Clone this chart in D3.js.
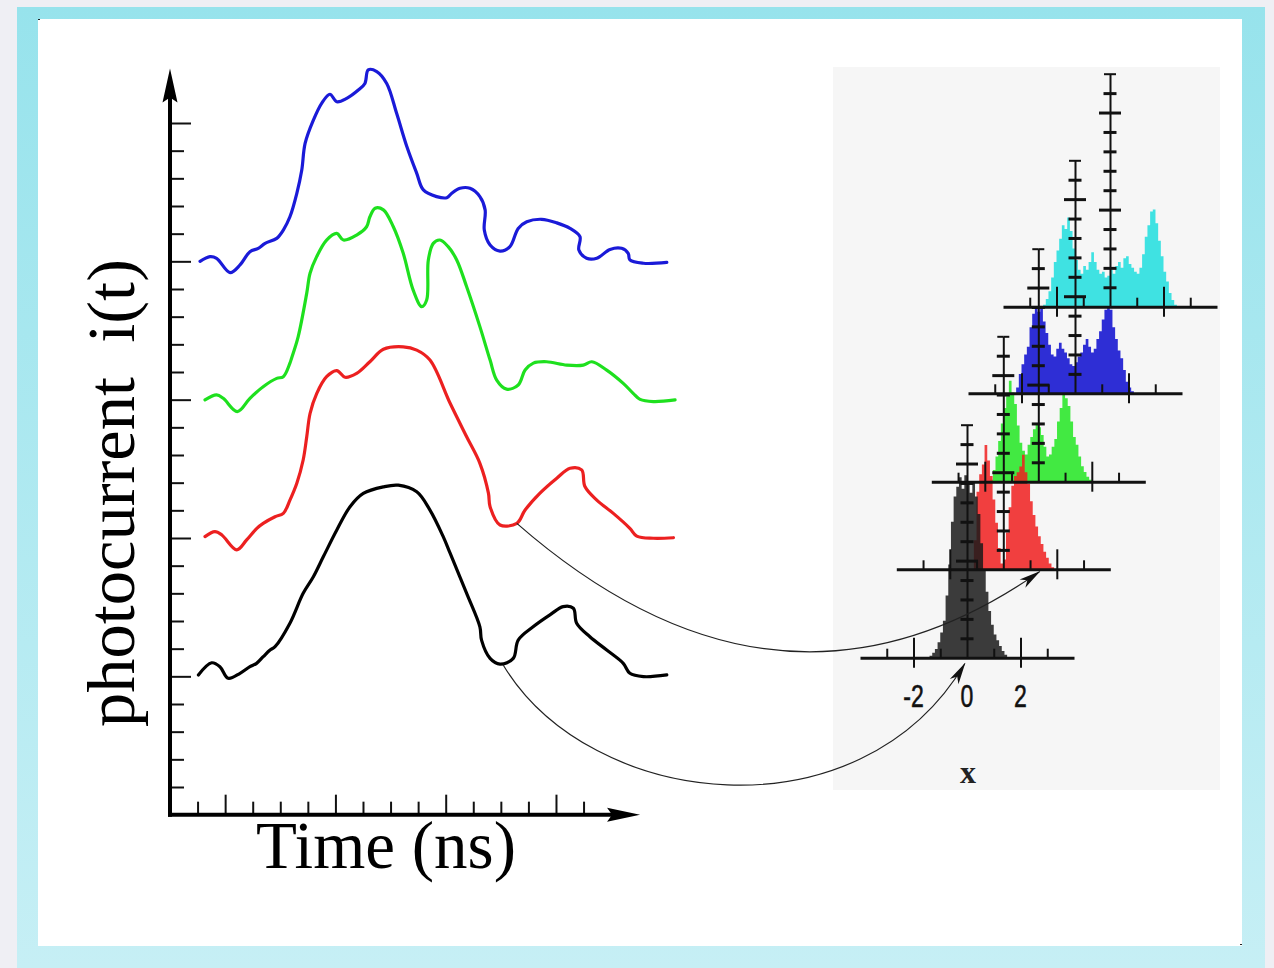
<!DOCTYPE html>
<html>
<head>
<meta charset="utf-8">
<script src="https://cdn.jsdelivr.net/npm/d3@7/dist/d3.min.js"></script>
<style>
html, body { margin: 0; padding: 0; background: #efeff4; }
svg { display: block; }
</style>
</head>
<body>
<svg id="chart" width="1274" height="968"></svg>
<script>
//
// Photocurrent traces (left) and the histograms they map to (right).
//

// Left chart axes.
var timeTicks = [1, 2, 3, 4, 5, 6, 7, 8, 9, 10, 11, 12, 13, 14, 15];
var timeMajorTicks = [2, 6, 10, 14];
var currentTicks = [1, 2, 3, 4, 5, 6, 7, 8, 9, 10, 11, 12, 13, 14, 15, 16, 17, 18, 19, 20, 21, 22, 23, 24, 25];
var currentMajorTicks = [5, 10, 15, 20, 25];

// Each trace is [time, current above its own baseline].
var traceBaselines = [20, 15, 10, 5]; // blue, green, red, black
var blueTrace = [[1.09,0.00],[1.45,0.17],[1.69,0.11],[2.18,-0.41],[2.54,-0.13],[2.90,0.35],[3.20,0.47],[3.45,0.65],[3.87,0.83],[4.11,1.13],[4.35,1.61],[4.60,2.46],[4.78,3.30],[4.90,4.26],[5.20,5.10],[5.50,5.71],[5.80,6.04],[6.05,5.77],[6.41,5.89],[6.83,6.19],[7.07,6.43],[7.19,6.92],[7.50,6.86],[7.86,6.43],[8.22,5.35],[8.59,4.15],[8.95,3.18],[9.19,2.58],[9.67,2.34],[10.04,2.30],[10.22,2.46],[10.52,2.64],[10.88,2.64],[11.24,2.34],[11.43,1.86],[11.40,1.13],[11.61,0.59],[11.97,0.37],[12.33,0.53],[12.63,1.19],[12.94,1.43],[13.48,1.52],[14.03,1.39],[14.51,1.19],[14.87,0.89],[14.83,0.41],[15.11,0.11],[15.48,0.11],[15.96,0.43],[16.38,0.47],[16.62,0.29],[16.68,0.05],[17.17,-0.07],[18.02,-0.04]];
var greenTrace = [[1.27,-0.01],[1.69,0.17],[1.93,0.05],[2.44,-0.43],[2.90,0.05],[3.38,0.47],[3.87,0.77],[4.11,0.83],[4.35,1.32],[4.41,1.50],[4.65,2.28],[4.96,3.85],[5.08,4.57],[5.32,5.17],[5.68,5.77],[6.05,6.01],[6.29,5.77],[6.77,5.95],[7.13,6.25],[7.25,6.61],[7.44,6.92],[7.74,6.86],[8.10,6.25],[8.46,5.29],[8.82,3.96],[9.13,3.36],[9.31,3.60],[9.37,5.05],[9.55,5.65],[9.79,5.77],[10.09,5.53],[10.40,5.05],[10.76,4.08],[11.24,2.64],[11.61,1.43],[11.85,0.71],[12.21,0.38],[12.63,0.53],[12.88,1.07],[13.18,1.32],[13.66,1.37],[14.39,1.25],[14.99,1.25],[15.30,1.37],[15.84,1.07],[16.44,0.59],[16.80,0.23],[17.05,0.01],[17.53,-0.07],[18.32,-0.01]];
var redTrace = [[1.27,0.05],[1.63,0.23],[1.88,0.11],[2.42,-0.43],[2.78,-0.07],[3.15,0.35],[3.38,0.53],[3.81,0.77],[4.11,0.89],[4.35,1.37],[4.60,1.98],[4.83,2.82],[4.96,3.66],[5.08,4.50],[5.32,5.22],[5.68,5.83],[6.05,6.05],[6.35,5.81],[6.77,5.95],[7.25,6.37],[7.74,6.82],[8.46,6.91],[8.95,6.79],[9.43,6.43],[10.16,4.87],[10.76,3.66],[11.24,2.70],[11.55,1.62],[11.61,1.13],[11.97,0.47],[12.58,0.53],[12.88,1.01],[13.42,1.62],[14.03,2.16],[14.51,2.52],[14.93,2.46],[15.05,1.86],[15.48,1.37],[16.08,0.89],[16.68,0.35],[16.93,0.07],[17.53,-0.01],[18.26,0.01]];
var blackTrace = [[1.03,0.05],[1.51,0.49],[1.81,0.35],[2.11,-0.07],[2.54,0.11],[2.90,0.35],[3.14,0.47],[3.38,0.71],[3.63,0.95],[3.81,1.07],[4.35,1.92],[4.83,3.00],[5.20,3.60],[5.56,4.32],[6.05,5.29],[6.53,6.13],[7.01,6.61],[7.74,6.85],[8.28,6.91],[8.95,6.67],[9.43,6.01],[9.91,5.05],[10.16,4.45],[10.76,3.00],[11.24,1.79],[11.30,1.31],[11.61,0.65],[11.97,0.44],[12.45,0.65],[12.63,1.31],[13.17,1.79],[13.78,2.22],[14.26,2.52],[14.63,2.46],[14.75,1.92],[15.23,1.43],[15.84,0.95],[16.44,0.47],[16.68,0.11],[17.17,-0.01],[18.02,0.05]];

// Histograms of x, bins of 0.1 starting at the given x.
var histBinWidth = 0.1;
var blackStart = -1.4;
var blackCounts = [0.1,0.25,0.45,0.8,1.3,1.9,3.2,4.8,7.0,8.3,8.8,9.3,8.7,9.4,9.0,8.5,9.1,8.3,7.4,5.9,4.5,3.4,2.4,1.7,1.2,0.9,0.6,0.35,0.15];
var redStart = -1.1;
var redCounts = [1.5,4.0,4.9,5.4,6.4,5.6,4.8,3.6,2.4,1.1,0.3,0.5,1.9,3.2,4.3,4.8,5.0,5.3,5.9,5.0,4.4,3.5,2.8,2.2,1.7,1.3,0.9,0.6,0.3,0.1];
var greenStart = -1.8;
var greenCounts = [0.1,0.6,1.3,2.1,3.0,3.8,4.4,5.2,4.6,4.0,2.9,2.0,1.6,1.4,1.9,2.3,2.7,3.0,2.8,2.4,1.8,1.3,1.4,1.8,2.2,3.1,3.8,4.5,4.3,3.9,3.1,2.3,1.9,1.3,0.8,0.5,0.25,0.1];
var blueStart = -2.2;
var blueCounts = [0.3,1.0,1.5,2.0,2.4,3.4,4.1,4.5,4.2,4.4,3.7,3.1,2.5,2.0,1.9,2.3,2.6,2.3,2.1,1.8,1.5,1.4,1.6,1.9,2.1,2.5,2.8,2.4,2.1,2.3,2.8,3.2,3.8,4.3,4.5,4.3,3.4,2.8,2.2,1.8,1.2,0.6,0.3,0.1];
var cyanStart = -2.5;
var cyanCounts = [0.1,0.4,0.8,1.5,2.3,2.9,3.5,4.2,4.0,4.6,3.9,3.0,2.4,1.9,1.7,2.1,1.9,2.3,2.8,2.3,1.9,1.7,1.8,1.5,1.6,1.9,1.7,2.1,2.3,2.0,2.5,2.6,2.2,2.0,1.8,1.7,2.0,2.7,3.6,4.2,4.9,5.0,4.3,3.4,2.6,1.8,1.3,0.7,0.35,0.1];

// Histogram axes.
var histMinorXTicks = [-3, -1, 1, 3];
var histMajorXTicks = [-2, 2];
var histXLabels = [-2, 0, 2];
var histMinorYTicks = [1, 2, 3, 4, 6, 7, 8, 9, 11];
var histMajorYTicks = [5, 10];
var histTopYTick = [12];

var svg = d3.select("#chart");
var width = 1274, height = 968;

// Frame: grey page, cyan border, white sheet.
var defs = svg.append("defs");
var grad = defs.append("linearGradient").attr("id", "frameGrad").attr("x1", 0).attr("y1", 0).attr("x2", 0).attr("y2", 1);
grad.append("stop").attr("offset", "0%").attr("stop-color", "#97e3ec");
grad.append("stop").attr("offset", "100%").attr("stop-color", "#c6eff5");

svg.append("rect").attr("width", width).attr("height", height).attr("fill", "#efeff4");
svg.append("rect").attr("x", 17).attr("y", 7).attr("width", 1248).attr("height", 961).attr("fill", "url(#frameGrad)");
svg.append("rect").attr("x", 38).attr("y", 19).attr("width", 1204).attr("height", 927).attr("fill", "#ffffff");
svg.append("rect").attr("x", 38).attr("y", 19).attr("width", 2).attr("height", 1).attr("fill", "#222");
svg.append("rect").attr("x", 1240).attr("y", 944).attr("width", 2).attr("height", 1).attr("fill", "#222");

var arrowMarker = defs.append("marker")
    .attr("id", "arrowHead")
    .attr("markerUnits", "userSpaceOnUse")
    .attr("viewBox", "-24 -8 26 16")
    .attr("refX", 0).attr("refY", 0)
    .attr("markerWidth", 26).attr("markerHeight", 16)
    .attr("orient", "auto");
arrowMarker.append("path").attr("d", "M1,0 L-21,-5 L-15,0 L-21,5 Z").attr("fill", "#111");

// ---------- Right: histogram panel ----------
svg.append("rect").attr("x", 833).attr("y", 67).attr("width", 387).attr("height", 723).attr("fill", "#f6f6f6");

var hx = d3.scaleLinear().domain([-4, 4]).range([-107, 107]);
var hy = d3.scaleLinear().domain([0, 12]).range([0, -233]);

var panels = [ // back to front
    { start: cyanStart, counts: cyanCounts, color: "#1fdede", opacity: 0.85, origin: [1110, 306.7] },
    { start: blueStart, counts: blueCounts, color: "#1818d2", opacity: 0.9, origin: [1075, 393.3] },
    { start: greenStart, counts: greenCounts, color: "#22e622", opacity: 0.85, origin: [1038.3, 481.7] },
    { start: redStart, counts: redCounts, color: "#f01e1e", opacity: 0.85, origin: [1003.3, 569.3] },
    { start: blackStart, counts: blackCounts, color: "#1a1a1a", opacity: 0.85, origin: [967, 657.7] }
];

function histPoints (panel) {
    var pts = panel.counts.map(function (c, i) { return { x: panel.start + i * histBinWidth, h: c }; });
    pts.push({ x: panel.start + panel.counts.length * histBinWidth, h: 0 });
    return pts;
}

var histArea = d3.area()
    .x(function (d) { return hx(d.x); })
    .y0(hy(0))
    .y1(function (d) { return hy(d.h); })
    .curve(d3.curveStepAfter);

panels.forEach(function (panel) {
    svg.append("g")
        .attr("transform", "translate(" + panel.origin[0] + "," + panel.origin[1] + ")")
        .append("path")
            .attr("d", histArea(histPoints(panel)))
            .attr("fill", panel.color)
            .attr("fill-opacity", panel.opacity);
});

function styleAxis (g, tickWidth, domainWidth) {
    g.selectAll(".tick text").remove();
    g.selectAll(".tick line").attr("stroke", "#111").attr("stroke-width", tickWidth);
    if (domainWidth) g.select(".domain").attr("stroke", "#111").attr("stroke-width", domainWidth);
    else g.select(".domain").remove();
}

panels.forEach(function (panel, i) {
    var g = svg.append("g").attr("transform", "translate(" + panel.origin[0] + "," + panel.origin[1] + ")");

    g.append("g").call(d3.axisTop(hx).tickValues(histMinorXTicks).tickSize(9).tickSizeOuter(0)).call(styleAxis, 2, 3);
    g.append("g").call(d3.axisTop(hx).tickValues(histMajorXTicks).tickSize(20)).call(styleAxis, 2, 0);
    g.append("g").call(d3.axisBottom(hx).tickValues(histMajorXTicks).tickSize(10)).call(styleAxis, 2, 0);

    var vy = d3.scaleLinear().domain([0, 12]).range([0, -233]);
    g.append("g").call(d3.axisLeft(vy).tickValues(histMinorYTicks).tickSize(6.5).tickSizeOuter(0)).call(styleAxis, 3, 2);
    g.append("g").call(d3.axisRight(vy).tickValues(histMinorYTicks).tickSize(6.5)).call(styleAxis, 3, 0);
    g.append("g").call(d3.axisLeft(vy).tickValues(histMajorYTicks).tickSize(11)).call(styleAxis, 3, 0);
    g.append("g").call(d3.axisRight(vy).tickValues(histMajorYTicks).tickSize(11)).call(styleAxis, 3, 0);
    g.append("g").call(d3.axisLeft(vy).tickValues(histTopYTick).tickSize(6)).call(styleAxis, 2, 0);
    g.append("g").call(d3.axisRight(vy).tickValues(histTopYTick).tickSize(6)).call(styleAxis, 2, 0);

    if (i === panels.length - 1) { // only the front histogram is labelled
        histXLabels.forEach(function (v) {
            g.append("text")
                .attr("transform", "translate(" + hx(v) + ",49) scale(0.72,1)")
                .attr("text-anchor", "middle")
                .attr("font-family", "Liberation Sans, Arial, sans-serif")
                .attr("font-size", 32)
                .attr("fill", "#111")
                .attr("stroke", "#111")
                .attr("stroke-width", 0.6)
                .text(v < 0 ? "-" + Math.abs(v) : String(v));
        });
        g.append("text")
            .attr("x", hx(0) + 1).attr("y", 125)
            .attr("text-anchor", "middle")
            .attr("font-family", "Liberation Serif, Times New Roman, serif")
            .attr("font-weight", "bold")
            .attr("font-size", 32)
            .attr("fill", "#222")
            .text("x");
    }
});

// ---------- Left: photocurrent traces ----------
var x = d3.scaleLinear().domain([0, 1]).range([170, 197.57]);
var y = d3.scaleLinear().domain([1, 25]).range([787, 123]);

var tEnd = 17.05, vEnd = 26.9; // where the axis arrows end

var axisG = svg.append("g");
axisG.append("g").attr("transform", "translate(" + x(0) + ",0)")
    .call(d3.axisRight(y).tickValues(currentTicks.filter(function (v) { return currentMajorTicks.indexOf(v) < 0; })).tickSize(14))
    .call(styleAxis, 2, 0);
axisG.append("g").attr("transform", "translate(" + x(0) + ",0)")
    .call(d3.axisRight(y).tickValues(currentMajorTicks).tickSize(21))
    .call(styleAxis, 2, 0);
axisG.append("g").attr("transform", "translate(0," + y(0) + ")")
    .call(d3.axisTop(x).tickValues(timeTicks.filter(function (t) { return timeMajorTicks.indexOf(t) < 0; })).tickSize(13))
    .call(styleAxis, 2, 0);
axisG.append("g").attr("transform", "translate(0," + y(0) + ")")
    .call(d3.axisTop(x).tickValues(timeMajorTicks).tickSize(20))
    .call(styleAxis, 2, 0);

axisG.append("line")
    .attr("x1", x(0)).attr("y1", y(0) + 2).attr("x2", x(0)).attr("y2", y(vEnd) + 20)
    .attr("stroke", "#000").attr("stroke-width", 4);
axisG.append("line")
    .attr("x1", x(0) - 2).attr("y1", y(0)).attr("x2", x(tEnd) - 20).attr("y2", y(0))
    .attr("stroke", "#000").attr("stroke-width", 4);
axisG.append("path")
    .attr("d", "M" + x(0) + "," + (y(vEnd) - 2) + " l-7.5,34 l7.5,-5 l7.5,5 Z")
    .attr("fill", "#000");
axisG.append("path")
    .attr("d", "M" + x(tEnd) + "," + y(0) + " l-33,-7 l5,7 l-5,7 Z")
    .attr("fill", "#000");

var traces = [
    { data: blueTrace, base: traceBaselines[0], color: "#1a1ad8" },
    { data: greenTrace, base: traceBaselines[1], color: "#1ee01e" },
    { data: redTrace, base: traceBaselines[2], color: "#ec2020" },
    { data: blackTrace, base: traceBaselines[3], color: "#000000" }
];

traces.forEach(function (trace) {
    var line = d3.line()
        .x(function (d) { return x(d[0]); })
        .y(function (d) { return y(trace.base + d[1]); })
        .curve(d3.curveCatmullRom.alpha(0.5));
    svg.append("path")
        .attr("d", line(trace.data))
        .attr("fill", "none")
        .attr("stroke", trace.color)
        .attr("stroke-width", 3.2)
        .attr("stroke-linejoin", "round")
        .attr("stroke-linecap", "round");
});

// ---------- Connecting arcs: trace minimum -> histogram ----------
function panelPoint (panel, xv, hv) {
    return [panel.origin[0] + hx(xv), panel.origin[1] + hy(hv)];
}
var redArcStart = [x(12.58), y(traceBaselines[2] + 0.53)];
var redArcEnd = panelPoint(panels[3], 1.36, -0.12);
var blackArcStart = [x(12.08), y(traceBaselines[3] + 0.42)];
var blackArcEnd = panelPoint(panels[4], -0.08, -0.3);

var redArc = d3.path();
redArc.moveTo(redArcStart[0], redArcStart[1]);
redArc.quadraticCurveTo(redArcStart[0] + 263, redArcStart[1] + 230, redArcEnd[0], redArcEnd[1]);

var blackArc = d3.path();
blackArc.moveTo(blackArcStart[0], blackArcStart[1]);
blackArc.bezierCurveTo(blackArcStart[0] + 87, blackArcStart[1] + 145, blackArcEnd[0] - 105, blackArcEnd[1] + 177, blackArcEnd[0], blackArcEnd[1]);

[redArc, blackArc].forEach(function (p) {
    svg.append("path")
        .attr("d", p.toString())
        .attr("fill", "none")
        .attr("stroke", "#222")
        .attr("stroke-width", 1.2)
        .attr("marker-end", "url(#arrowHead)");
});

// ---------- Axis titles ----------
svg.append("text")
    .attr("x", 386).attr("y", 868)
    .attr("text-anchor", "middle")
    .attr("font-family", "Liberation Serif, Times New Roman, serif")
    .attr("font-size", 67)
    .attr("fill", "#000")
    .text("Time (ns)");

svg.append("text")
    .attr("transform", "translate(134,493) rotate(-90)")
    .attr("text-anchor", "middle")
    .attr("font-family", "Liberation Serif, Times New Roman, serif")
    .attr("font-size", 68.5)
    .attr("fill", "#000")
    .style("white-space", "pre")
    .text("photocurrent  i(t)");
</script>
</body>
</html>
